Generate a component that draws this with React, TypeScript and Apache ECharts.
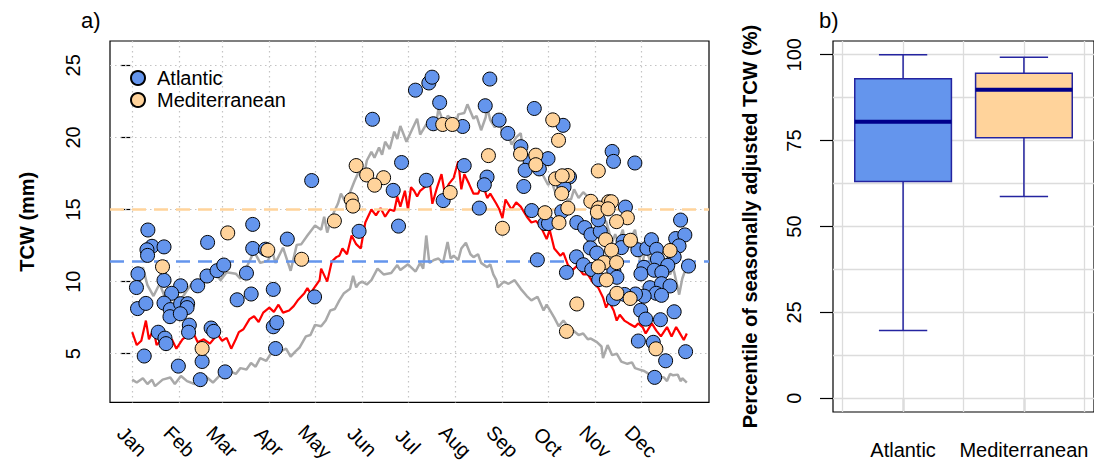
import React, { useEffect, useRef } from "react";
import * as echarts from "echarts";

const FONT = "'Liberation Sans', Arial, Helvetica, sans-serif";

// ---------- Panel a) data ----------
const monthLabels = ["Jan", "Feb", "Mar", "Apr", "May", "Jun", "Jul", "Aug", "Sep", "Oct", "Nov", "Dec"];
const monthStartDays = [1, 32, 60, 91, 121, 152, 182, 213, 244, 274, 305, 335];
const tcwTicks = [5, 10, 15, 20, 25];

// [day of year, TCW mm] upper percentile (grey)
const upperPercentile: number[][] = [
  [1, 10.0], [3, 9.4], [6, 10.3], [8, 11.0], [11, 9.75], [15, 9.0], [19, 9.85], [24, 8.5], [29, 9.4], [32, 8.6],
  [37, 9.4], [40, 9.85], [47, 10.2], [52, 10.3], [55, 10.65], [59, 10.1], [63, 10.65], [69, 10.55], [72, 10.2], [75, 10.75],
  [81, 12.1], [85, 11.3], [90, 11.45], [93, 12.1], [95, 11.3], [100, 12.35], [105, 10.75], [109, 12.55], [112, 12.6], [116, 13.2],
  [121, 13.9], [125, 13.6], [127, 14.5], [129, 13.4], [132, 14.5], [136, 15.4], [138, 16.1], [141, 15.5], [144, 16.2], [147, 17.0],
  [150, 17.7], [153, 17.3], [155, 18.4], [158, 19.0], [160, 18.6], [163, 19.3], [165, 18.8], [167, 19.7], [170, 19.2], [173, 20.4],
  [175, 19.9], [177, 20.8], [181, 19.7], [184, 20.4], [188, 21.3], [190, 20.2], [194, 20.9], [198, 20.6], [201, 21.3], [202, 22.0],
  [206, 20.8], [208, 21.5], [211, 21.3], [213, 20.7], [215, 21.6], [219, 21.7], [221, 22.3], [225, 21.3], [227, 21.5], [230, 20.5],
  [233, 21.4], [234, 22.1], [236, 21.2], [239, 20.7], [242, 21.3], [244, 20.2], [247, 20.5], [250, 19.5], [253, 20.0], [256, 20.3],
  [258, 18.7], [262, 18.6], [264, 18.2], [267, 17.7], [270, 17.5], [274, 16.7], [276, 17.0], [279, 16.1], [283, 16.4], [286, 15.7],
  [289, 15.7], [291, 16.4], [294, 15.8], [297, 16.2], [300, 15.9], [303, 15.4], [307, 14.75], [309, 14.0], [312, 14.2], [316, 12.7],
  [318, 13.3], [320, 12.7], [323, 13.6], [325, 12.3], [329, 13.2], [331, 13.6], [333, 12.4], [335, 10.9], [338, 12.3], [341, 11.4],
  [344, 12.1], [346, 12.5], [349, 11.8], [351, 11.0], [354, 10.5], [356, 11.0], [360, 9.1], [362, 10.2], [365, 11.1],
];

// [day of year, TCW mm] lower percentile (grey)
const lowerPercentile: number[][] = [
  [1, 3.2], [4, 3.0], [8, 3.3], [11, 2.9], [14, 3.2], [16, 2.75], [21, 3.2], [26, 3.35], [29, 2.9], [33, 3.45],
  [37, 3.1], [42, 2.9], [46, 3.3], [49, 3.45], [54, 3.0], [59, 3.55], [62, 3.3], [65, 3.8], [69, 3.6], [72, 4.0],
  [76, 3.9], [79, 4.35], [82, 4.1], [85, 4.7], [89, 4.5], [92, 5.0], [95, 5.4], [98, 5.15], [102, 5.35], [105, 4.8],
  [108, 5.15], [111, 5.45], [115, 6.2], [118, 6.3], [121, 7.0], [125, 6.9], [128, 7.3], [131, 8.0], [134, 8.1], [137, 8.7],
  [140, 9.2], [144, 9.5], [146, 10.4], [148, 9.6], [150, 9.9], [152, 10.0], [155, 9.8], [158, 10.1], [162, 10.9], [166, 10.5],
  [171, 10.6], [175, 11.15], [177, 10.8], [182, 11.2], [187, 10.7], [190, 11.3], [192, 10.9], [194, 13.2], [196, 11.3], [199, 11.5],
  [202, 11.6], [205, 11.3], [208, 12.75], [210, 11.6], [212, 11.8], [215, 11.5], [217, 12.3], [220, 12.7], [223, 11.9], [225, 11.7],
  [228, 11.9], [230, 11.3], [234, 11.0], [236, 11.2], [238, 10.5], [240, 10.1], [241, 9.6], [245, 10.0], [248, 9.85], [252, 10.1],
  [256, 9.5], [260, 9.0], [263, 8.7], [267, 8.95], [271, 8.0], [273, 8.4], [278, 7.5], [281, 6.9], [284, 7.3], [287, 6.9],
  [290, 6.65], [294, 6.3], [297, 6.4], [300, 6.0], [302, 6.05], [306, 5.8], [309, 5.5], [310, 4.7], [313, 5.6], [316, 4.9],
  [319, 5.0], [322, 4.45], [326, 4.3], [329, 4.4], [331, 4.0], [334, 3.9], [337, 3.8], [340, 3.6], [344, 3.55], [347, 3.4],
  [350, 3.35], [352, 3.1], [354, 3.6], [356, 3.5], [359, 3.55], [361, 3.1], [362, 3.3], [364, 3.1], [365, 3.0],
];

// [day of year, TCW mm] median (red)
const medianTCW: number[][] = [
  [1, 6.5], [4, 5.6], [7, 5.9], [10, 7.3], [12, 6.0], [15, 6.7], [17, 5.6], [22, 6.15], [25, 5.8], [27, 6.0],
  [30, 5.35], [34, 6.0], [37, 6.25], [40, 6.7], [44, 5.8], [48, 6.0], [52, 5.7], [57, 6.35], [60, 5.9], [63, 6.1],
  [66, 5.35], [69, 6.0], [71, 6.5], [74, 6.7], [78, 7.4], [81, 7.6], [84, 7.2], [87, 7.85], [91, 8.2], [94, 7.9],
  [97, 8.4], [100, 7.85], [104, 8.0], [107, 8.3], [110, 8.75], [114, 9.2], [116, 9.55], [118, 9.2], [120, 9.5], [124, 10.1],
  [125, 10.9], [129, 10.0], [132, 11.4], [135, 11.7], [137, 11.8], [139, 12.3], [142, 11.9], [145, 13.2], [148, 12.6], [151, 12.3],
  [154, 14.1], [158, 15.0], [161, 14.6], [164, 15.1], [167, 14.5], [170, 15.0], [173, 14.9], [175, 15.9], [177, 15.2], [180, 16.3],
  [182, 15.0], [184, 16.55], [186, 16.3], [188, 15.9], [190, 16.3], [193, 16.55], [196, 17.2], [198, 15.4], [201, 16.5], [204, 17.45],
  [206, 16.2], [209, 16.8], [212, 17.2], [215, 18.35], [217, 16.4], [219, 17.45], [222, 16.8], [225, 16.1], [228, 16.1], [231, 16.8],
  [234, 15.8], [236, 16.1], [240, 15.4], [242, 15.0], [244, 14.4], [246, 15.7], [250, 15.0], [253, 15.5], [256, 15.2], [260, 14.5],
  [263, 14.1], [266, 14.2], [269, 13.85], [273, 12.95], [275, 13.6], [278, 12.3], [282, 11.8], [284, 12.0], [287, 11.15], [290, 10.8],
  [293, 11.1], [297, 10.5], [300, 10.5], [303, 10.0], [307, 9.55], [310, 8.9], [312, 8.2], [314, 8.6], [317, 8.0], [319, 7.3],
  [321, 7.7], [324, 7.3], [327, 7.1], [331, 6.85], [333, 7.1], [336, 6.85], [338, 6.4], [342, 7.1], [345, 6.6], [348, 6.2],
  [352, 6.85], [355, 6.2], [358, 6.85], [360, 6.5], [363, 5.95], [365, 6.4],
];

// [day of year, TCW mm]
const atlanticPoints: number[][] = [
  [11.3, 13.58], [14.0, 12.45], [10.7, 12.21], [11.1, 11.82], [21.9, 12.41], [4.8, 10.54], [3.8, 9.59], [21.9, 10.09],
  [32.8, 9.71], [26.9, 9.19], [4.5, 8.13], [10.0, 8.49], [21.9, 8.51], [26.0, 8.06], [25.8, 7.57], [32.8, 8.47],
  [37.4, 8.47], [37.0, 8.2], [32.6, 7.77], [38.5, 6.98], [38.0, 6.49], [18.1, 6.49], [22.5, 6.08], [23.2, 5.7],
  [8.9, 4.84], [31.3, 4.14], [46.9, 4.46], [45.7, 3.2], [44.0, 9.71], [50.1, 10.39], [50.5, 12.72], [56.7, 10.76],
  [61.1, 11.15], [52.8, 6.78], [54.5, 6.55], [62.0, 3.74], [69.9, 8.74], [76.0, 10.59], [80.1, 13.97], [80.1, 12.3],
  [79.1, 9.14], [88.5, 12.25], [102.8, 12.95], [93.6, 9.46], [93.6, 6.87], [95.9, 7.16], [95.1, 5.36], [120.7, 8.94],
  [149.9, 13.49], [175.8, 13.85], [158.7, 21.26], [118.8, 17.01], [172.3, 16.33], [177.8, 18.26], [186.9, 23.28], [195.7, 23.78],
  [197.8, 24.18], [202.8, 22.42], [235.7, 24.05], [232.7, 22.2], [241.8, 21.2], [247.5, 20.28], [198.6, 20.95], [217.9, 20.76],
  [218.9, 18.05], [194.0, 17.03], [233.9, 17.25], [232.1, 16.72], [205.1, 15.62], [228.8, 15.1], [264.9, 22.01], [283.8, 20.84],
  [256.1, 19.36], [262.2, 18.32], [273.9, 18.53], [268.2, 17.82], [258.9, 17.72], [258.0, 16.6], [288.0, 17.26], [284.4, 16.55],
  [263.2, 14.93], [282.9, 14.86], [271.9, 14.03], [274.2, 14.03], [266.9, 11.51], [286.0, 10.64], [292.8, 14.1], [298.0, 13.75],
  [302.1, 13.26], [308.2, 13.49], [306.9, 14.29], [316.0, 19.03], [316.9, 18.34], [330.9, 18.23], [324.7, 15.17], [301.7, 12.34],
  [305.9, 11.98], [292.6, 11.72], [297.1, 11.17], [302.6, 10.84], [307.2, 10.14], [317.1, 10.75], [319.1, 10.3], [323.2, 12.79],
  [322.1, 12.36], [332.9, 12.21], [338.8, 12.31], [341.8, 12.91], [345.1, 12.24], [357.7, 12.99], [360.9, 14.27], [363.7, 13.24],
  [359.9, 12.48], [345.7, 11.57], [356.7, 11.71], [352.5, 11.13], [336.9, 10.99], [334.9, 10.54], [343.6, 10.79], [348.6, 10.64],
  [366.1, 11.08], [340.8, 9.58], [348.4, 9.86], [354.0, 9.7], [344.9, 9.19], [348.4, 9.05], [337.0, 8.99], [331.3, 9.14],
  [324.2, 9.11], [316.8, 8.8], [334.7, 8.01], [338.0, 7.4], [347.7, 7.36], [356.7, 7.91], [333.2, 5.88], [343.0, 5.79],
  [364.2, 5.14], [351.1, 4.51], [343.9, 3.36],
];

// [day of year, TCW mm]
const mediterraneanPoints: number[][] = [
  [20.9, 11.03], [46.9, 5.36], [63.7, 13.38], [90.0, 12.18], [112.2, 11.55], [133.7, 14.21], [144.8, 15.68], [145.9, 15.24],
  [148.0, 18.05], [154.9, 17.4], [166.0, 17.21], [160.1, 16.69], [204.8, 20.9], [211.1, 20.9], [234.8, 18.74], [209.7, 16.18],
  [244.0, 13.7], [277.0, 21.22], [280.8, 19.8], [255.9, 18.85], [265.9, 18.77], [265.9, 18.11], [278.9, 17.13], [286.9, 17.36],
  [283.2, 17.34], [282.9, 16.11], [306.9, 17.68], [271.9, 14.78], [286.9, 15.1], [281.1, 14.09], [302.0, 15.57], [313.7, 15.54],
  [315.5, 15.54], [307.2, 15.11], [306.3, 14.82], [313.3, 15.05], [326.0, 14.43], [318.9, 14.16], [311.7, 12.91], [328.0, 12.87],
  [315.6, 12.18], [354.0, 12.16], [310.7, 11.32], [318.9, 11.32], [306.9, 11.03], [312.2, 10.12], [319.1, 9.19], [327.8, 8.83],
  [292.8, 8.45], [286.0, 6.55], [344.7, 5.34],
];

const atlanticThreshold = 11.42;
const mediterraneanThreshold = 15.05;

// ---------- Panel b) data ----------
const boxCategories = ["Atlantic", "Mediterranean"];
// [lower whisker, Q1, median, Q3, upper whisker]
const atlanticBox = [19.7, 63.1, 80.5, 93.0, 100];
const mediterraneanBox = [58.7, 75.8, 89.8, 94.6, 99.3];
const percentileTicks = [0, 25, 50, 75, 100];
const percentileGrid = [0, 12.5, 25, 37.5, 50, 62.5, 75, 87.5, 100];
const boxGridX = [0.5, 1, 1.5, 2, 2.5];

const BLUE = "#6495ED";
const ORANGE = "#FFD39B";
const boxFills = [BLUE, ORANGE];

export default function App() {
  const ref = useRef<HTMLDivElement>(null);

  useEffect(() => {
    if (!ref.current) return;
    const chart = echarts.init(ref.current, undefined, { renderer: "svg" });

    const labelStyle = { fontSize: 20, color: "#000", fontFamily: FONT };

    const option: any = {
      animation: false,
      backgroundColor: "#fff",
      textStyle: { fontFamily: FONT },
      grid: [
        { left: 110, top: 41, width: 599, height: 371, show: true, borderColor: "#000", borderWidth: 1.2, backgroundColor: "transparent", containLabel: false },
        { left: 833, top: 41, width: 265, height: 371, show: true, borderColor: "#000", borderWidth: 1.2, backgroundColor: "transparent", containLabel: false },
      ],
      graphic: [
        { type: "text", left: 81, top: 9, style: { text: "a)", fontSize: 22, fill: "#000", fontFamily: FONT } },
        { type: "text", left: 819, top: 9, style: { text: "b)", fontSize: 22, fill: "#000", fontFamily: FONT } },
      ],
      legend: {
        data: ["Atlantic", "Mediterranean"],
        orient: "vertical",
        left: 125,
        top: 63,
        itemWidth: 28,
        itemHeight: 14,
        itemGap: 2,
        icon: "circle",
        selectedMode: false,
        textStyle: { fontSize: 20, color: "#000", fontFamily: FONT },
      },
      xAxis: [
        {
          gridIndex: 0,
          type: "value",
          min: -13.56,
          max: 379.56,
          axisLine: { show: false },
          axisTick: { show: false },
          splitLine: { show: false },
          axisLabel: {
            ...labelStyle,
            customValues: monthStartDays,
            formatter: (v: number) => {
              const i = monthStartDays.indexOf(Math.round(v));
              return i >= 0 ? monthLabels[i] : "";
            },
            rotate: -45,
            align: "center",
            verticalAlign: "middle",
            margin: 39,
          },
        },
        {
          gridIndex: 1,
          type: "value",
          min: 0.42,
          max: 2.58,
          axisLine: { show: false },
          axisTick: { show: true, customValues: [1, 2], length: 13, lineStyle: { color: "#000", width: 1.2 } },
          splitLine: { show: false },
          axisLabel: {
            ...labelStyle,
            customValues: [1, 2],
            formatter: (v: number) => boxCategories[Math.round(v) - 1] || "",
            margin: 28,
          },
        },
      ],
      yAxis: [
        {
          gridIndex: 0,
          type: "value",
          min: 1.62,
          max: 26.69,
          axisLine: { show: false },
          axisTick: { show: true, customValues: tcwTicks, length: 10, lineStyle: { color: "#000", width: 1.2 } },
          splitLine: { show: false },
          axisLabel: { ...labelStyle, customValues: tcwTicks, rotate: 90, margin: 27 },
          name: "TCW (mm)",
          nameLocation: "middle",
          nameRotate: 90,
          nameGap: 73,
          nameTextStyle: { fontSize: 20, fontWeight: "bold", color: "#000", fontFamily: FONT },
        },
        {
          gridIndex: 1,
          type: "value",
          min: -4,
          max: 104,
          axisLine: { show: false },
          axisTick: { show: true, customValues: percentileTicks, length: 13, lineStyle: { color: "#000", width: 1.2 } },
          splitLine: { show: false },
          axisLabel: { ...labelStyle, customValues: percentileTicks, rotate: 90, margin: 29 },
          name: "Percentile of seasonally adjusted TCW (%)",
          nameLocation: "middle",
          nameRotate: 90,
          nameGap: 73,
          nameTextStyle: { fontSize: 20, fontWeight: "bold", color: "#000", fontFamily: FONT },
        },
      ],
      series: [
        {
          name: "lower",
          type: "line",
          xAxisIndex: 0,
          yAxisIndex: 0,
          data: lowerPercentile,
          showSymbol: false,
          symbol: "none",
          lineStyle: { color: "#A9A9A9", width: 2.5 },
          z: 2,
          silent: true,
          markLine: {
            silent: true,
            symbol: ["none", "none"],
            label: { show: false },
            z: 1,
            lineStyle: { color: "#c4c4c4", type: [1.5, 3.5], width: 1.2 },
            emphasis: { disabled: true },
            data: [
              ...monthStartDays.map((d) => ({ xAxis: d })),
              ...tcwTicks.map((v) => ({ yAxis: v })),
            ],
          },
        },
        {
          name: "upper",
          type: "line",
          xAxisIndex: 0,
          yAxisIndex: 0,
          data: upperPercentile,
          showSymbol: false,
          symbol: "none",
          lineStyle: { color: "#A9A9A9", width: 2.5 },
          z: 2,
          silent: true,
        },
        {
          name: "median",
          type: "line",
          xAxisIndex: 0,
          yAxisIndex: 0,
          data: medianTCW,
          showSymbol: false,
          symbol: "none",
          lineStyle: { color: "#FF0000", width: 2.2 },
          z: 3,
          silent: true,
          markLine: {
            silent: true,
            symbol: ["none", "none"],
            label: { show: false },
            z: 4,
            emphasis: { disabled: true },
            data: [
              { yAxis: atlanticThreshold, lineStyle: { color: BLUE, type: [14, 8], width: 2.5 } },
              { yAxis: mediterraneanThreshold, lineStyle: { color: ORANGE, type: [14, 8], width: 2.5 } },
            ],
          },
        },
        {
          name: "Atlantic",
          type: "scatter",
          xAxisIndex: 0,
          yAxisIndex: 0,
          data: atlanticPoints,
          symbol: "circle",
          symbolSize: 14,
          itemStyle: { color: BLUE, borderColor: "#000", borderWidth: 1, opacity: 1 },
          z: 5,
        },
        {
          name: "Mediterranean",
          type: "scatter",
          xAxisIndex: 0,
          yAxisIndex: 0,
          data: mediterraneanPoints,
          symbol: "circle",
          symbolSize: 14,
          itemStyle: { color: ORANGE, borderColor: "#000", borderWidth: 1, opacity: 1 },
          z: 5,
        },
        {
          name: "boxes",
          type: "custom",
          xAxisIndex: 1,
          yAxisIndex: 1,
          data: [
            [1, ...atlanticBox],
            [2, ...mediterraneanBox],
          ],
          z: 3,
          silent: true,
          renderItem: (params: any, api: any) => {
            const x = api.value(0);
            const yLo = api.coord([x, api.value(1)])[1];
            const yQ1 = api.coord([x, api.value(2)])[1];
            const yMed = api.coord([x, api.value(3)])[1];
            const yQ3 = api.coord([x, api.value(4)])[1];
            const yHi = api.coord([x, api.value(5)])[1];
            const cx = api.coord([x, api.value(1)])[0];
            const boxW = api.size([0.8, 0])[0];
            const capW = api.size([0.4, 0])[0];
            const stroke = "#2424a0";
            const lw = 1.5;
            return {
              type: "group",
              children: [
                { type: "line", shape: { x1: cx, y1: yHi, x2: cx, y2: yQ3 }, style: { stroke, lineWidth: lw } },
                { type: "line", shape: { x1: cx, y1: yQ1, x2: cx, y2: yLo }, style: { stroke, lineWidth: lw } },
                { type: "line", shape: { x1: cx - capW / 2, y1: yHi, x2: cx + capW / 2, y2: yHi }, style: { stroke, lineWidth: lw } },
                { type: "line", shape: { x1: cx - capW / 2, y1: yLo, x2: cx + capW / 2, y2: yLo }, style: { stroke, lineWidth: lw } },
                { type: "rect", shape: { x: cx - boxW / 2, y: yQ3, width: boxW, height: yQ1 - yQ3 }, style: { fill: boxFills[params.dataIndex], stroke, lineWidth: lw } },
                { type: "line", shape: { x1: cx - boxW / 2, y1: yMed, x2: cx + boxW / 2, y2: yMed }, style: { stroke: "#00008B", lineWidth: 4 } },
              ],
            };
          },
          markLine: {
            silent: true,
            symbol: ["none", "none"],
            label: { show: false },
            z: 1,
            lineStyle: { color: "#dcdcdc", type: "solid", width: 1.3 },
            emphasis: { disabled: true },
            data: [
              ...boxGridX.map((v) => ({ xAxis: v })),
              ...percentileGrid.map((v) => ({ yAxis: v })),
            ],
          },
        },
      ],
    };

    chart.setOption(option);
    return () => chart.dispose();
  }, []);

  return (
    <div
      ref={ref}
      style={{ position: "absolute", left: 0, top: 0, width: 1094, height: 464, background: "#fff" }}
    />
  );
}
